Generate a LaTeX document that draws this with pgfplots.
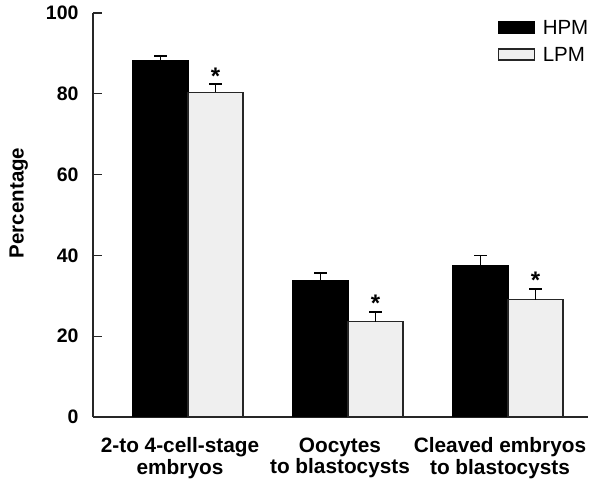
\documentclass[border=0pt]{standalone}
\usepackage{pgfplots}
\pgfplotsset{compat=1.18}
\usepackage{fontspec}
\setmainfont{Liberation Sans}
\definecolor{lpmgray}{HTML}{EFEFEF}
\begin{document}
\begin{tikzpicture}
\useasboundingbox (-93pt,-64pt) rectangle (505pt,417pt);
\begin{axis}[
  scale only axis,
  width=495pt, height=404pt,
  xmin=-0.594, xmax=2.5,
  ymin=0, ymax=100,
  enlarge y limits=false,
  axis lines=left,
  axis line style={-, line width=1.3pt, black!85},
  ybar=0pt, bar width=55pt,
  ytick={0,20,40,60,80,100},
  ytick align=inside,
  major tick length=9pt,
  ytick style={line width=1.2pt, black!85},
  xtick={-0.05,0.95,1.95},
  xtick style={draw=none},
  xticklabels={{2-to 4-cell-stage\\embryos},{Oocytes\\to blastocysts},{Cleaved embryos\\to blastocysts}},
  xticklabel style={align=center, font=\bfseries\fontsize{20.8}{21.5}\selectfont, yshift=-8pt},
  yticklabel style={font=\bfseries\fontsize{19.5}{20}\selectfont, xshift=-11pt},
  /pgf/number format/assume math mode=true,
  ylabel={Percentage},
  ylabel style={font=\bfseries\fontsize{20.5}{20}\selectfont, at={(axis description cs:-0.150,0.53)}, anchor=center},
  legend style={draw=none, fill=none, at={(rel axis cs:0.818,0.982)}, anchor=north west,
    font=\fontsize{20.5}{20}\selectfont, row sep=13pt, inner sep=0pt,
    nodes={inner sep=0pt, text depth=0pt}},
  legend cell align=left,
  legend image code/.code={\draw[#1, line width=1.3pt] (0pt,-5.5pt) rectangle (36pt,5.5pt); \path[draw=none, fill=none] (0pt,0pt) -- (44pt,0pt);},
  error bars/y dir=plus,
  error bars/y explicit,
  error bars/error mark=|,
  error bars/error mark options={line width=1.4pt, mark size=6.5pt, black},
  error bars/error bar style={line width=1.4pt, black},
]
\addplot[fill=black, draw=black, line width=1.2pt] coordinates {
  (0,88.1) +- (0,1.3)
  (1,33.7) +- (0,1.9)
  (2,37.5) +- (0,2.4)
};
\addlegendentry{HPM}
\addplot[fill=lpmgray, draw=black!85, line width=1.3pt] coordinates {
  (0,80.4) +- (0,2.0)
  (1,23.6) +- (0,2.4)
  (2,29.0) +- (0,2.7)
};
\addlegendentry{LPM}
\node[font=\bfseries\fontsize{24}{24}\selectfont, anchor=base] at (axis cs:0.172,82.4) {*};
\node[font=\bfseries\fontsize{24}{24}\selectfont, anchor=base] at (axis cs:1.172,26.0) {*};
\node[font=\bfseries\fontsize{24}{24}\selectfont, anchor=base] at (axis cs:2.172,31.7) {*};
\end{axis}
\end{tikzpicture}
\end{document}
